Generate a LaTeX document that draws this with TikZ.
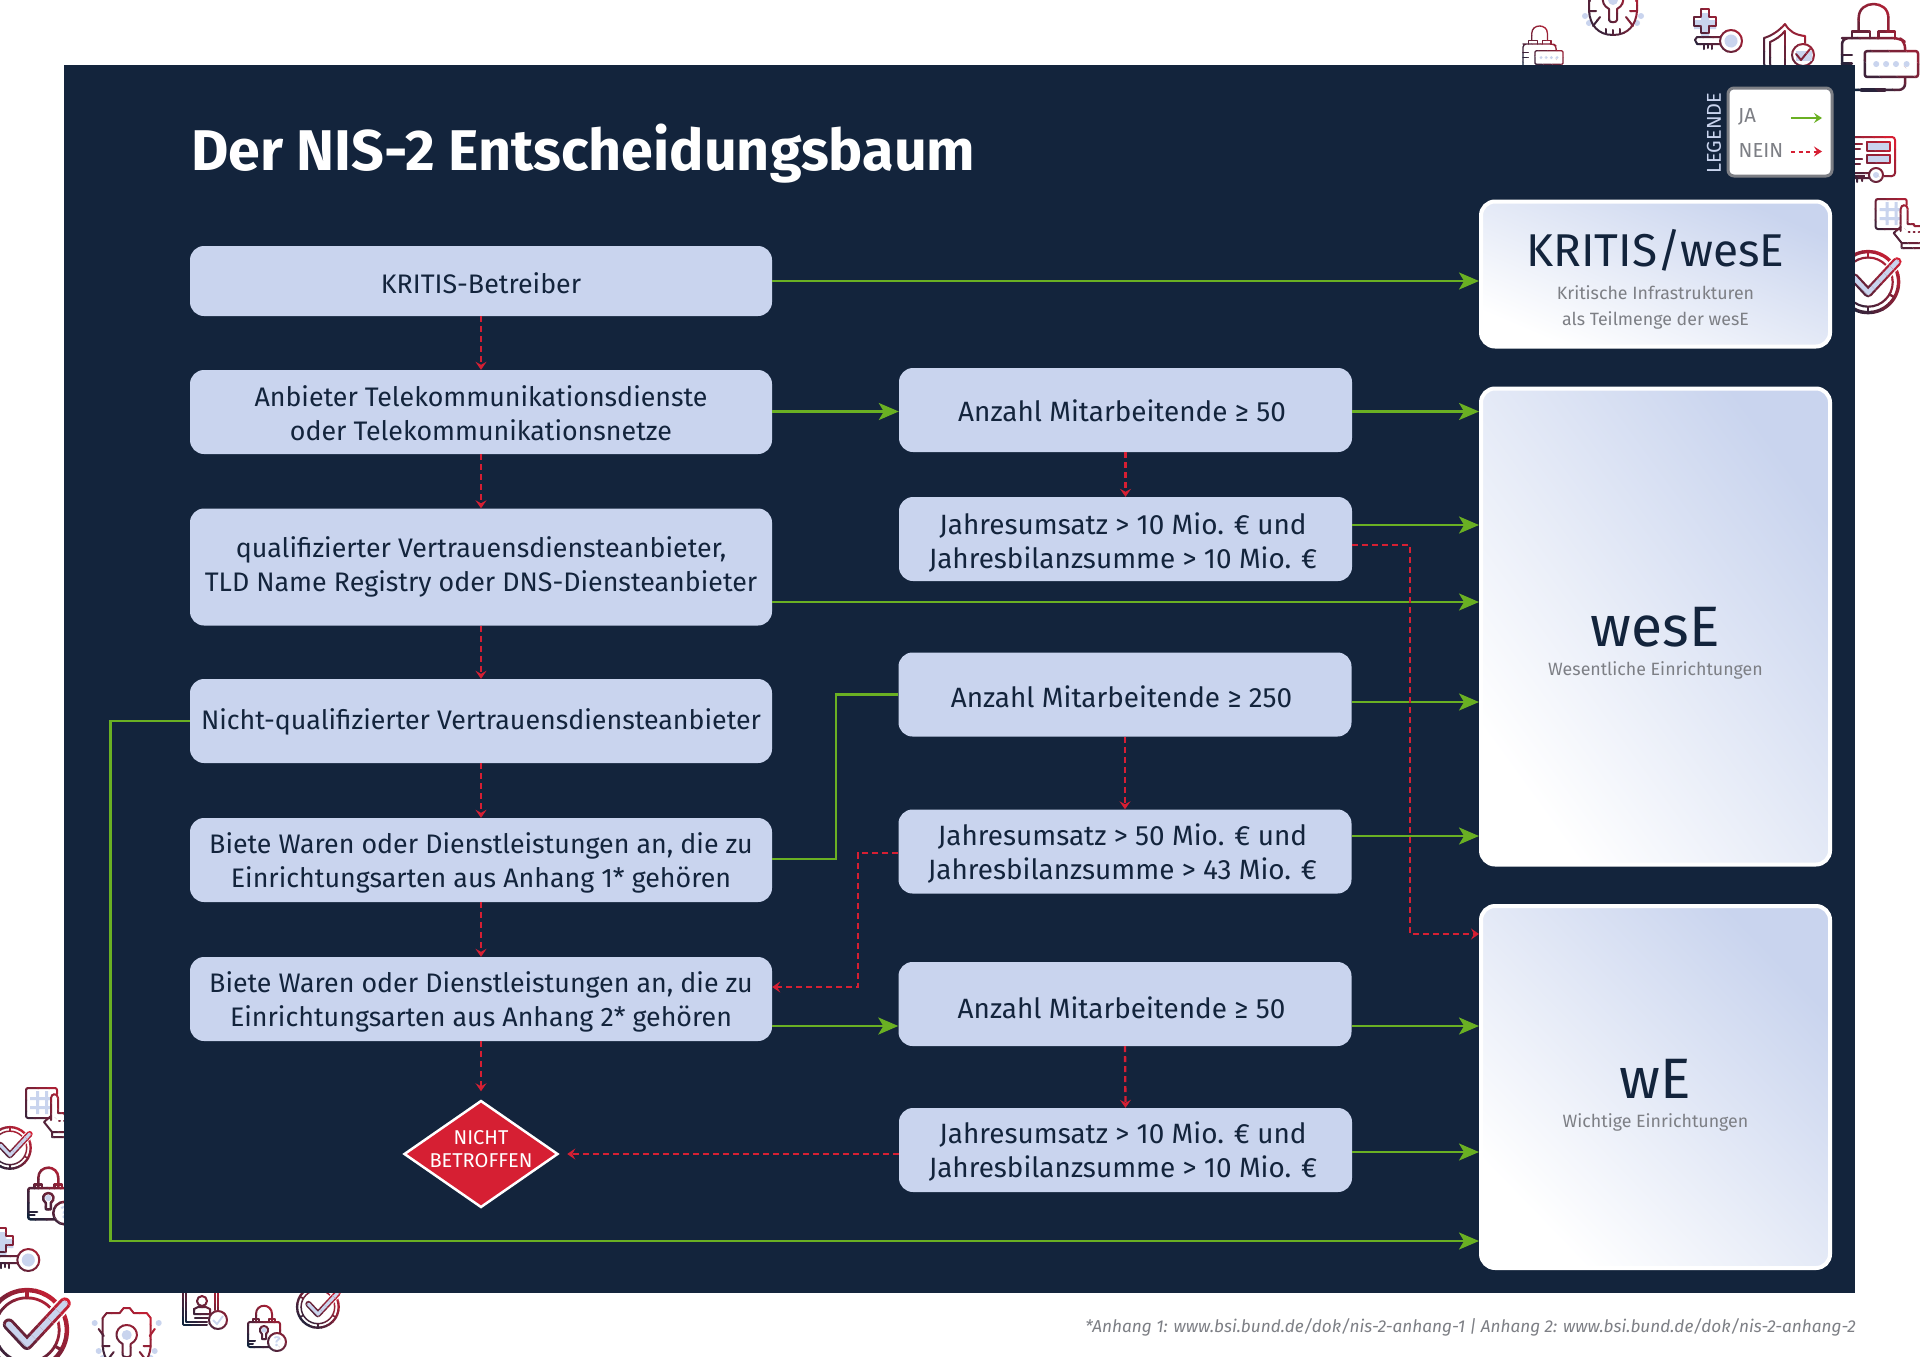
\documentclass[tikz,border=0pt]{standalone}
\usepackage{fontspec}
\setmainfont{Fira Sans}
\usetikzlibrary{arrows.meta,shapes.geometric,calc}
\definecolor{navy}{HTML}{13243C}
\definecolor{boxc}{HTML}{C9D4EE}
\definecolor{yesc}{HTML}{6AB023}
\definecolor{noc}{HTML}{D61F33}
\definecolor{grayt}{HTML}{7D7F85}
\definecolor{iconred}{HTML}{D61F33}
\definecolor{iclc}{HTML}{C9D4EE}
\newcommand{\qt}[2]{\raisebox{0pt}[\dimexpr\height+#1pt\relax]{\begin{tabular}{@{}c@{}}#2\end{tabular}}}
\newcommand{\qtm}[2]{\raisebox{0pt}[\dimexpr\height+#1pt\relax]{\begin{tabular}{@{}c@{\hspace{5pt}}}#2\end{tabular}}}
\newcommand{\qtn}[2]{\raisebox{0pt}[\dimexpr\height+#1pt\relax]{\begin{tabular}{@{}c@{\hspace{7pt}}}#2\end{tabular}}}
\def\icm{2}
\tikzset{
 qbox/.style={fill=boxc,rounded corners=14pt,inner sep=0pt,align=center,text=navy,font=\fontsize{26.8}{34}\selectfont},
 mbox/.style={qbox,font=\fontsize{27.9}{34}\selectfont},
 resbox/.style={draw=white,line width=4pt,rounded corners=14pt,inner sep=0pt,bottom color=white,top color=boxc},
 restitle/.style={text=navy,inner sep=0pt,align=center},
 ressub/.style={text=grayt,inner sep=0pt,align=center,font=\fontsize{17.8}{25.5}\selectfont},
 yesarrow/.style={draw=yesc,line width=2.5pt,-{Stealth[length=20pt,width=17pt,inset=5pt]}},
 yesline/.style={draw=yesc,line width=2.5pt},
 noarrow/.style={draw=noc,line width=2.3pt,dash pattern=on 6pt off 4pt,-{Stealth[length=8pt,width=11pt,inset=3pt]}},
 ic/.style={draw=ico,line width=\icsc*\icm*1pt,line join=round,line cap=round},
 icf/.style={draw=ico,fill=white,line width=\icsc*\icm*1pt,line join=round,line cap=round},
 iclf/.style={fill=iclc,draw=none},
}
% #1 x, #2 y, #3 scale, #4 box size, #5 body
\newcommand{\gradicon}[5]{%
 \def\icsc{#3}%
 \foreach \i in {0,...,9}{%
  \pgfmathsetmacro{\tA}{-#4+(\i)*2*#4/10-0.3}%
  \pgfmathsetmacro{\tB}{-#4+(\i+1)*2*#4/10+0.3}%
  \pgfmathtruncatemacro{\pct}{\i*100/9}%
  \colorlet{ico}{iconred!\pct!navy}%
  \begin{scope}[shift={(#1,#2)},x=#3pt,y=-#3pt]
   \clip ({\tA-#4},{-#4})--({\tB-#4},{-#4})--({\tB+2*#4},{2*#4})--({\tA+2*#4},{2*#4})--cycle;
   #5
  \end{scope}}}
\newcommand{\iconlock}{%
 \def\icm{3.3}%
 \draw[ic] (22,36)--(22,18) .. controls (22,-6) and (61,-6) .. (61,18)--(61,36);
 \draw[ic] (13,45)--(13,36)--(37,36)--(37,45) (48,45)--(48,36)--(70,36)--(70,45);
 \draw[ic,rounded corners=\icsc*8pt] (8,45)--(76,45)--(83,50)--(83,113)--(0,113)--(0,45)--cycle;
 \draw[ic] (0,67)--(13,67) (0,78)--(13,78);
 \draw[ic,line width=\icsc*5pt] (26,113)--(56,113);
 \draw[icf,rounded corners=\icsc*3pt] (30,62) rectangle (100,96);
 \foreach \q in {45,58,71,85}{\fill[iclf] (\q,79) circle[radius=4];}}
\newcommand{\iconshield}{%
 \fill[iclf] (3,15) circle[radius=3] (7,43) circle[radius=3] (11,50) circle[radius=3];
 \fill[iclf] (67,15) circle[radius=3] (63,43) circle[radius=3] (59,50) circle[radius=3];
 \draw[ic] (35,62) .. controls (20,62) and (12,52) .. (11,38)--(11,10)--(15,5)--(28,5)--(32,0)--(38,0)--(42,5)--(55,5)--(59,10)--(59,38) .. controls (58,52) and (50,62) .. (35,62);
 \draw[ic] (7,21)--(12,28) (11,38)--(18,38) (15,53)--(22,44) (63,21)--(58,28) (59,38)--(52,38) (55,53)--(48,44);
 \fill[iclf] (35,27) circle[radius=5];
 \draw[ic] (31,36)--(31,47) .. controls (31,50) and (39,50) .. (39,47)--(39,36) .. controls (50,30) and (45,17) .. (35,17) .. controls (25,17) and (20,30) .. (31,36)--cycle;
 \draw[ic] (35,57)--(35,61) (28,56)--(28,60) (42,56)--(42,60);}
\newcommand{\iconplus}{%
 \fill[iclf] (7,4) rectangle (15,28) (0,11) rectangle (22,20);
 \draw[ic] (7,0)--(15,0)--(15,8)--(22,8)--(22,17)--(15,17)--(15,24)--(7,24)--(7,17)--(0,17)--(0,8)--(7,8)--cycle;
 \fill[iclf] (37,32) circle[radius=6.5];
 \draw[ic] (37,32) circle[radius=11];
 \draw[ic] (26,28)--(3,28)--(1,31)--(3,35)--(26,35);
 \draw[ic] (10,35)--(10,40) (14,35)--(14,39) (18,35)--(18,40);}
\newcommand{\iconshieldcheck}{%
 \draw[ic] (22,1) .. controls (16,8) and (8,13) .. (1,15)--(1,40) .. controls (2,52) and (12,60) .. (22,66);
 \draw[ic] (22,8) .. controls (18,13) and (12,17) .. (7,19)--(7,40) .. controls (8,50) and (14,56) .. (22,60);
 \draw[ic] (22,1) .. controls (26,8) and (32,12) .. (42,13)--(42,20);
 \draw[ic] (22,8)--(22,66);
 \fill[white] (40,32) circle[radius=11];
 \draw[ic] (40,32) circle[radius=11];
 \fill[iclf] (33,28) rectangle (49,38);
 \draw[ic,line width=\icsc*2pt] (33,31)--(38,37)--(47,26);}
\newcommand{\iconserver}{%
 \draw[ic,rounded corners=3pt] (0,0) rectangle (55,39);
 \draw[ic] (10,7)--(22,7) (10,12)--(20,12) (10,22)--(22,22) (10,27)--(20,27);
 \fill[iclf] (27,6) rectangle (50,14) (27,19) rectangle (50,26);
 \draw[ic] (27,5) rectangle (50,14) (27,18) rectangle (50,26);
 \fill[white] (36,38) circle[radius=8] (25,35) rectangle (30,45);
 \draw[ic] (36,38) circle[radius=7];
 \fill[iclf] (36,38) circle[radius=3];
 \draw[ic] (29,36)--(14,36)--(13,41)--(29,41) (17,41)--(17,45) (22,41)--(22,44);}
\newcommand{\icongrid}{%
 \fill[iclf] (4,9) rectangle (26,12) (4,18) rectangle (26,21) (10,3) rectangle (13,26) (19,3) rectangle (22,26);
 \draw[ic,rounded corners=2pt] (31,30)--(0,30)--(0,0)--(31,0)--(31,6);
 \fill[white] (25,7) rectangle (36,32) (14,32) rectangle (50,50);
 \draw[ic] (25,32)--(25,10) .. controls (25,5) and (32,5) .. (32,10)--(32,25)--(38,25)--(39,27)--(45,27)--(46,29)--(52,29);
 \draw[ic] (25,28)--(18,34)--(26,44)--(55,44) (26,44)--(26,49)--(55,49);
 \draw[ic] (33,33)--(34,33) (38,33)--(39,33) (43,33)--(44,33);}
\newcommand{\iconcheck}{%
 \draw[ic,line width=\icsc*3.2pt] (30,30) circle[radius=28.5];
 \draw[ic] (30,30) circle[radius=23];
 \foreach \q in {0,60,...,300}{\draw[ic,line width=\icsc*2.2pt] ($(30,30)+(\q+30:23)$)--($(30,30)+(\q+30:28)$);}
 \draw[white,line width=\icsc*11pt,line cap=round,line join=round] (17,26)--(30,40)--(57,11);
 \draw[ico,line width=\icsc*8.5pt,line cap=round,line join=round] (17,26)--(30,40)--(57,11);
 \draw[iclc,line width=\icsc*4.3pt,line cap=round,line join=round] (17,26)--(30,40)--(57,11);}
\newcommand{\iconq}[1]{%
 \draw[ic] (8,15)--(8,8) .. controls (8,-3) and (24,-3) .. (24,8)--(24,15);
 \draw[ic] (5,16)--(5,13)--(11,13)--(11,16) (21,16)--(21,13)--(27,13)--(27,16);
 \draw[ic,rounded corners=2pt] (0,16) rectangle (32,41);
 \draw[ic] (0,35)--(7,35) (0,37.5)--(5,37.5);
 \fill[iclf] (16,24) circle[radius=2.5];
 \draw[ic] (14,28)--(14,33)--(18,33)--(18,28) .. controls (22,25) and (20,20) .. (16,20) .. controls (12,20) and (10,25) .. (14,28)--cycle;
 \fill[white] (29,36) circle[radius=9];
 \draw[ic] (29,36) circle[radius=9];
 \node[inner sep=0pt,text=iclc,font=\bfseries\fontsize{#1}{#1}\selectfont] (qm\i) at (29,36) {?};}
\newcommand{\icondoc}{%
 \draw[ic] (0,0)--(0,45)--(24,45) (3,0)--(3,42)--(24,42);
 \draw[ic] (35,0)--(35,30) (32,0)--(32,30);
 \draw[ic] (19,21) circle[radius=5];
 \draw[ic] (11,34)--(11,29)--(15,27)--(23,27)--(27,29)--(27,34)--cycle;
 \draw[ic] (12,38)--(25,38);
 \fill[white] (35,40) circle[radius=9];
 \draw[ic] (35,40) circle[radius=9];
 \draw[iclc,line width=1.8pt] (30,40)--(34,44)--(40,36);}
\begin{document}
\begin{tikzpicture}[x=1pt,y=-1pt]
\useasboundingbox (0,0) rectangle (1920,1357);
\fill[white] (0,0) rectangle (1920,1357);
% decorative icons behind panel
\gradicon{1523}{26}{0.4}{113}{\iconlock}
\gradicon{1842}{4}{0.76}{113}{\iconlock}
\gradicon{1578}{-27}{1}{70}{\iconshield}
\gradicon{91.7}{1308}{1}{70}{\iconshield}
\gradicon{1694}{9}{1}{50}{\iconplus}
\gradicon{-8.7}{1228}{1}{50}{\iconplus}
\gradicon{1763}{23}{1}{66}{\iconshieldcheck}
\gradicon{1840}{137}{1}{55}{\iconserver}
\gradicon{1875.7}{199}{1}{55}{\icongrid}
\gradicon{26}{1088}{1}{55}{\icongrid}
\gradicon{1836}{250}{1.07}{60}{\iconcheck}
\gradicon{-15}{1288}{1.4}{60}{\iconcheck}
\gradicon{-12}{1126}{0.73}{60}{\iconcheck}
\gradicon{296}{1285}{0.73}{60}{\iconcheck}
\gradicon{28.3}{1168}{1.25}{45}{\iconq{17}}
\gradicon{248}{1306}{1}{45}{\iconq{14}}
\gradicon{183}{1280}{1}{45}{\icondoc}
% panel
\fill[navy] (64,64.5) rectangle (1855,1293);
\node[anchor=west,inner sep=0pt,text=white,font=\bfseries\fontsize{57.4}{60}\selectfont] (title) at (191,153.5) {Der NIS-2 Entscheidungsbaum};
% legend
\node[draw=grayt,line width=3pt,fill=white,rounded corners=6pt,minimum width=104pt,minimum height=88pt,inner sep=0pt] (legend) at (1780,132) {};
\node[rotate=90,inner sep=0pt,text=boxc,font=\fontsize{20}{22}\selectfont] (legendt) at (1714,133) {LEGENDE};
\node[anchor=west,inner sep=0pt,text=grayt,font=\fontsize{20.3}{22}\selectfont] (ja) at (1738,117) {JA};
\node[anchor=west,inner sep=0pt,text=grayt,font=\fontsize{20.3}{22}\selectfont] (nein) at (1738.5,151) {NEIN};
\coordinate (ja1) at (1791,118); \coordinate (ja2) at (1822,118);
\coordinate (ne1) at (1791,151.5); \coordinate (ne2) at (1822,151.5);
\draw[draw=yesc,line width=2pt,-{Stealth[length=8pt,width=10pt,inset=3pt]}] (ja1)--(ja2);
\draw[draw=noc,line width=2pt,dash pattern=on 4pt off 3.5pt,-{Stealth[length=8pt,width=10pt,inset=3pt]}] (ne1)--(ne2);
% left column
\node[qbox,minimum width=582pt,minimum height=70pt] (b1) at (481,281) {\qt{11}{KRITIS-Betreiber}};
\node[qbox,minimum width=582pt,minimum height=84pt] (b2) at (481,412) {\qt{10}{Anbieter Telekommunikationsdienste\\oder Telekommunikationsnetze}};
\node[qbox,minimum width=582pt,minimum height=117pt] (b3) at (481,567) {\qt{0.5}{qualifizierter Vertrauensdiensteanbieter,\\TLD Name Registry oder DNS-Diensteanbieter}};
\node[qbox,minimum width=582pt,minimum height=84pt] (b4) at (481,721) {\qt{2.5}{Nicht-qualifizierter Vertrauensdiensteanbieter}};
\node[qbox,minimum width=582pt,minimum height=84pt] (b5) at (481,860) {\qt{7}{Biete Waren oder Dienstleistungen an, die zu\\Einrichtungsarten aus Anhang 1* gehören}};
\node[qbox,minimum width=582pt,minimum height=84pt] (b6) at (481,999) {\qt{8}{Biete Waren oder Dienstleistungen an, die zu\\Einrichtungsarten aus Anhang 2* gehören}};
% middle column
\node[mbox,minimum width=453pt,minimum height=84pt] (m1) at (1125.5,410) {\qtn{8.5}{Anzahl Mitarbeitende ≥ 50}};
\node[mbox,minimum width=453pt,minimum height=84pt] (m2) at (1125.5,539) {\qtm{10.7}{Jahresumsatz > 10 Mio. € und\\Jahresbilanzsumme > 10 Mio. €}};
\node[mbox,minimum width=453pt,minimum height=84pt] (m3) at (1125,694.5) {\qtn{12}{Anzahl Mitarbeitende ≥ 250}};
\node[mbox,minimum width=453pt,minimum height=84pt] (m4) at (1125,851.5) {\qtm{7.7}{Jahresumsatz > 50 Mio. € und\\Jahresbilanzsumme > 43 Mio. €}};
\node[mbox,minimum width=453pt,minimum height=84pt] (m5) at (1125,1004) {\qtn{14.6}{Anzahl Mitarbeitende ≥ 50}};
\node[mbox,minimum width=453pt,minimum height=84pt] (m6) at (1125.5,1150) {\qtm{7}{Jahresumsatz > 10 Mio. € und\\Jahresbilanzsumme > 10 Mio. €}};
% result boxes
\node[resbox,shading angle=-23,minimum width=349pt,minimum height=145pt] (r1) at (1655.5,274) {};
\node[resbox,shading angle=-54,minimum width=349pt,minimum height=476pt] (r2) at (1655.5,626.5) {};
\node[resbox,shading angle=-46,minimum width=349pt,minimum height=362pt] (r3) at (1655.5,1087) {};
\node[restitle,font=\fontsize{46}{54}\selectfont] (r1t) at (1655.5,250) {KRITIS/wesE};
\node[ressub] (r1s) at (1655.5,307.5) {Kritische Infrastrukturen\\als Teilmenge der wesE};
\node[restitle,font=\fontsize{57}{60}\selectfont] (r2t) at (1655.5,627) {wesE};
\node[ressub] (r2s) at (1655.5,670) {Wesentliche Einrichtungen};
\node[restitle,font=\fontsize{57}{60}\selectfont] (r3t) at (1655.5,1079) {wE};
\node[ressub] (r3s) at (1655.5,1122) {Wichtige Einrichtungen};
% diamond
\node[diamond,aspect=1.44,fill=noc,draw=white,line width=2.5pt,minimum width=154pt,minimum height=107pt,inner sep=0pt,
  label={[align=center,text=white,inner sep=0pt,yshift=5pt,font=\fontsize{20}{23}\selectfont]center:NICHT\\BETROFFEN}] (d) at (481,1154) {};
% footer
\node[anchor=east,inner sep=0pt,text=grayt,font=\itshape\fontsize{17.2}{22}\selectfont] (foot) at (1856,1327.5) {*Anhang 1: www.bsi.bund.de/dok/nis-2-anhang-1 | Anhang 2: www.bsi.bund.de/dok/nis-2-anhang-2};
% green connectors
\draw[yesarrow] (b1.east |- 0,281) -- (r1.west |- 0,281);
\draw[yesarrow] (b2.east |- 0,411.5) -- (m1.west |- 0,411.5);
\draw[yesarrow] (m1.east |- 0,411.5) -- (r2.west |- 0,411.5);
\draw[yesarrow] (m2.east |- 0,525) -- (r2.west |- 0,525);
\draw[yesarrow] (b3.east |- 0,602) -- (r2.west |- 0,602);
\draw[yesarrow] (m3.east |- 0,702) -- (r2.west |- 0,702);
\draw[yesarrow] (m4.east |- 0,836) -- (r2.west |- 0,836);
\draw[yesarrow] (b6.east |- 0,1026) -- (m5.west |- 0,1026);
\draw[yesarrow] (m5.east |- 0,1026) -- (r3.west |- 0,1026);
\draw[yesarrow] (m6.east |- 0,1152) -- (r3.west |- 0,1152);
\draw[yesline] (b5.east |- 0,859) -- (836,859) -- (836,694.5) -- (m3.west);
\draw[yesarrow] (b4.west) -- (110.5,721) -- (110.5,1241) -- (r3.west |- 0,1241);
% red connectors
\draw[noarrow] (b1) -- (b2);
\draw[noarrow] (b2) -- (b3);
\draw[noarrow] (b3) -- (b4);
\draw[noarrow] (b4) -- (b5);
\draw[noarrow] (b5) -- (b6);
\draw[noarrow,shorten >=8pt] (b6.south) -- (d.north);
\draw[noarrow] (m1.south) -- (m2.north);
\draw[noarrow] (m3.south) -- (m4.north);
\draw[noarrow] (m5.south) -- (m6.north);
\draw[noarrow,shorten >=8pt] (m6.west |- d.east) -- (d.east);
\draw[noarrow] (m2.east |- 0,545) -- (1410,545) -- (1410,934) -- (r3.west |- 0,934);
\draw[noarrow] (m4.west |- 0,853) -- (858,853) -- (858,987) -- (b6.east |- 0,987);
\end{tikzpicture}
\end{document}
